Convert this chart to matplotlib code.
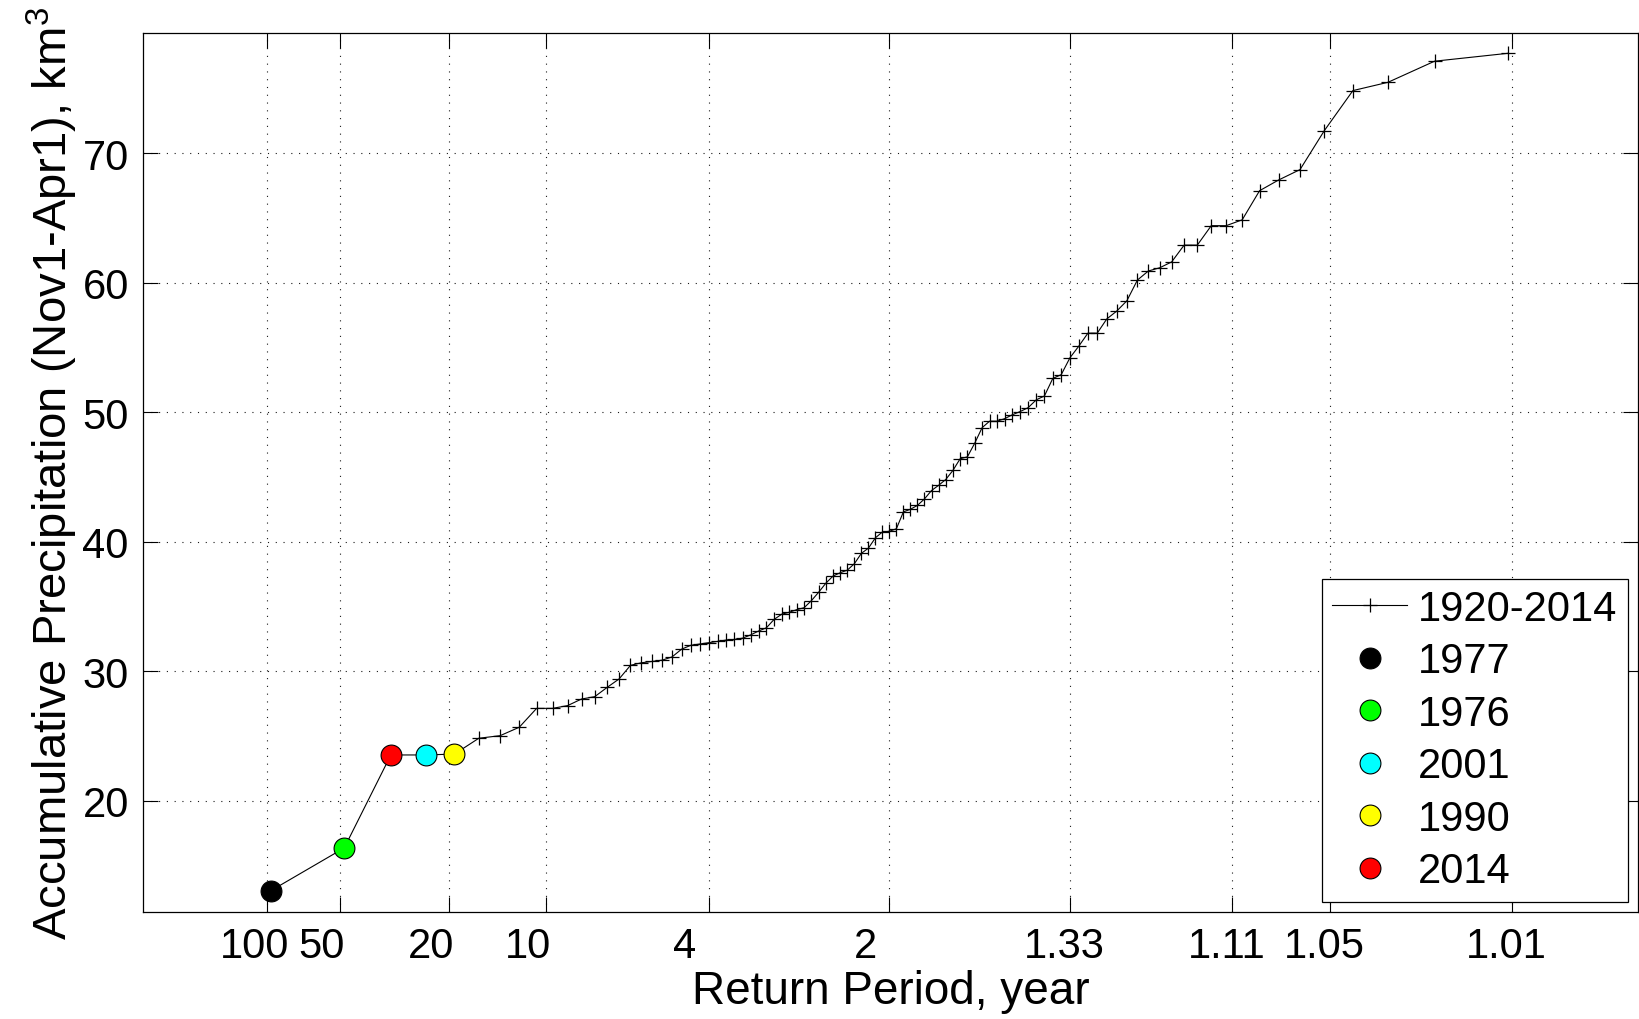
import numpy as np
import matplotlib
matplotlib.use('Agg')
import matplotlib.pyplot as plt
from matplotlib.transforms import ScaledTranslation
from statistics import NormalDist

plt.rcParams['font.family'] = ['Liberation Sans', 'DejaVu Sans']
plt.rcParams['mathtext.fontset'] = 'custom'
plt.rcParams['mathtext.rm'] = 'Liberation Sans'
plt.rcParams['mathtext.it'] = 'Liberation Sans:italic'

# Nov1-Apr1 accumulated precipitation (km^3), 1920-2014, sorted ascending
precip = [13.05, 16.35, 23.53, 23.53, 23.6, 24.82, 25.02, 25.67, 27.13, 27.13,
          27.34, 27.85, 28.03, 28.75, 29.4, 30.45, 30.65, 30.75, 30.85, 31.1,
          31.7, 32.0, 32.1, 32.2, 32.3, 32.4, 32.45, 32.55, 32.8, 33.1,
          33.35, 34.0, 34.4, 34.55, 34.75, 34.9, 35.45, 36.1, 36.8, 37.35,
          37.6, 37.8, 38.3, 39.1, 39.5, 40.3, 40.75, 40.8, 41.0, 42.3,
          42.5, 42.8, 43.3, 43.95, 44.35, 44.8, 45.5, 46.4, 46.55, 47.6,
          48.8, 49.3, 49.3, 49.5, 49.8, 50.05, 50.35, 50.95, 51.25, 52.6,
          52.9, 54.2, 55.1, 56.1, 56.1, 57.2, 57.8, 58.6, 60.2, 60.9,
          61.15, 61.6, 62.9, 62.9, 64.4, 64.4, 64.85, 67.1, 67.93, 68.73,
          71.74, 74.83, 75.47, 77.1, 77.71]

# highlighted dry years and their rank in the sorted series
dry_years = ['1977', '1976', '2001', '1990', '2014']
dry_ranks = [1, 2, 4, 5, 3]
dry_colors = ['black', '#00ff00', 'cyan', 'yellow', 'red']

# return period ticks (non-exceedance probability = 1/T)
tick_prob = [0.01, 0.02, 0.05, 0.1, 0.25, 0.5, 0.75, 0.9, 0.95, 0.99]
tick_labels = ['100', '50', '20', '10', '4', '2', '1.33', '1.11', '1.05', '1.01']

nd = NormalDist()
n = len(precip)
# Weibull plotting position on a normal probability axis
xpos = [nd.inv_cdf(m / (n + 1)) for m in range(1, n + 1)]

fig = plt.figure(figsize=(16.4, 10.2), dpi=100)
ax = fig.add_axes([0.087, 0.1046, 0.9118, 0.8621])

ax.plot(xpos, precip, '-+', color='k', lw=0.8, ms=10, mew=0.9,
        label='1920-2014', zorder=3)
for year, rank, col in zip(dry_years, dry_ranks, dry_colors):
    ax.plot(xpos[rank - 1], precip[rank - 1], 'o', color=col, mec='k',
            mew=0.8, ms=15, label=year, zorder=4)

ax.set_xlim(-2.79, 2.797)
ax.set_ylim(11.38, 79.28)
ax.set_xticks([nd.inv_cdf(p) for p in tick_prob])
ax.set_xticklabels(tick_labels)
ax.set_yticks([20, 30, 40, 50, 60, 70])

ax.grid(True, color='0.1', linestyle=(0, (1, 6)), linewidth=0.8)
ax.tick_params(direction='in', length=11, width=0.8, labelsize=30,
               top=True, right=True, pad=10)
for s in ax.spines.values():
    s.set_linewidth(0.9)

# MATLAB-style label placement (short labels sit left of their tick)
for lab in ax.get_xticklabels():
    dx = -5.5 - 6.3 * (4 - len(lab.get_text()))
    lab.set_transform(lab.get_transform() +
                      ScaledTranslation(dx / 100, 0, fig.dpi_scale_trans))

ax.set_xlabel('Return Period, year', fontsize=33, labelpad=2)
ax.set_ylabel('Accumulative Precipitation (Nov1-Apr1), km$^3$', fontsize=34,
              labelpad=2)

leg = ax.legend(loc='lower right', fontsize=30, fancybox=False,
                edgecolor='k', framealpha=1, borderaxespad=0.25,
                labelspacing=0.3, handlelength=1.8, handletextpad=0.25,
                borderpad=0.25, numpoints=1)
leg.get_frame().set_linewidth(0.9)

fig.savefig('out.png', dpi=100)
